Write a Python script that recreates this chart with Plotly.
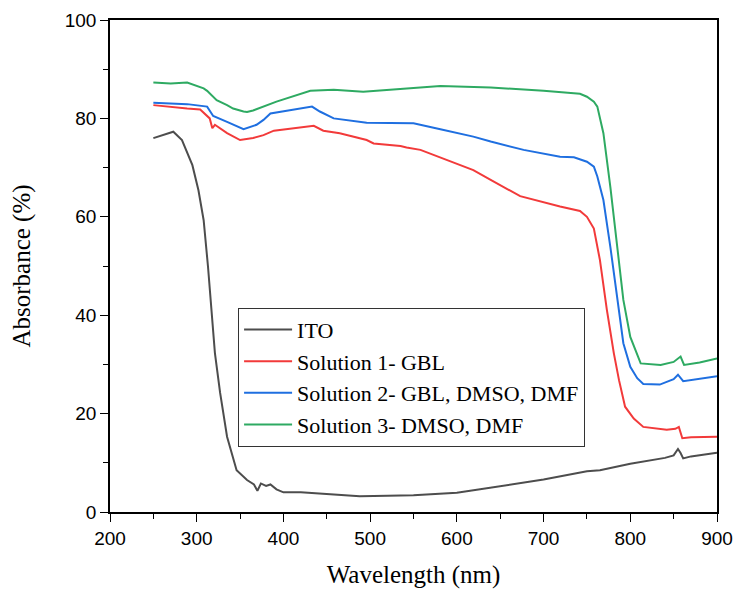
import plotly.graph_objects as go

# ITO
ito_x = [250, 265, 273, 283, 295, 302, 308, 313, 317, 321, 327, 335, 346, 358, 366, 370, 374, 380, 385, 392, 400,
         420, 454, 488, 520, 550, 600, 650, 700, 750, 765, 800, 840, 850, 855, 858, 861, 870, 900]
ito_y = [76.0, 76.8, 77.3, 75.6, 70.5, 65.4, 59.3, 49.9, 41.1, 32.3, 24.2, 15.3, 8.5, 6.5, 5.6, 4.3, 5.8, 5.3, 5.6, 4.6, 4.0,
         4.0, 3.6, 3.2, 3.3, 3.4, 3.9, 5.2, 6.6, 8.3, 8.5, 9.8, 11.0, 11.5, 12.8, 12.0, 10.9, 11.3, 12.05]

# Solution 1 - GBL
s1_x = [250, 270, 289, 304, 315, 318, 321, 335, 350, 365, 377, 389, 419, 427, 435, 446, 465, 496, 504, 535, 542, 558,
        581, 619, 639, 673, 719, 742, 750, 758, 765, 773, 781, 787, 794, 804, 815, 842, 852, 856, 860, 870, 900]
s1_y = [82.7, 82.3, 82.0, 81.8, 80.0, 78.0, 78.7, 77.0, 75.6, 76.0, 76.6, 77.5, 78.1, 78.3, 78.5, 77.5, 77.0, 75.6, 74.9,
        74.4, 74.1, 73.6, 72.0, 69.5, 67.5, 64.2, 62.1, 61.2, 60.0, 57.6, 51.2, 41.1, 32.3, 26.8, 21.4, 19.0, 17.3, 16.7,
        16.9, 17.3, 15.0, 15.2, 15.3]

# Solution 2 - GBL, DMSO, DMF
s2_x = [250, 270, 289, 312, 319, 335, 350, 354, 369, 377, 385, 412, 433, 442, 458, 496, 535, 550, 581, 619, 639, 677,
        719, 735, 750, 758, 762, 769, 777, 785, 792, 800, 808, 815, 834, 850, 855, 861, 880, 900]
s2_y = [83.2, 83.0, 82.9, 82.4, 80.5, 79.3, 78.0, 77.8, 78.7, 79.7, 81.0, 81.8, 82.4, 81.4, 80.0, 79.1, 79.0, 79.0, 77.8,
        76.3, 75.3, 73.6, 72.2, 72.1, 71.2, 70.2, 68.2, 63.4, 53.9, 43.1, 34.3, 29.5, 27.2, 26.0, 25.9, 27.0, 27.9, 26.6,
        27.1, 27.6]

# Solution 3 - DMSO, DMF
s3_x = [250, 270, 289, 308, 312, 323, 335, 342, 354, 358, 365, 377, 392, 431, 458, 492, 535, 581, 639, 658, 700, 735,
        742, 750, 758, 762, 769, 777, 785, 792, 800, 812, 835, 850, 858, 862, 880, 900]
s3_y = [87.3, 87.1, 87.3, 86.1, 85.6, 83.7, 82.7, 82.0, 81.4, 81.3, 81.6, 82.4, 83.4, 85.6, 85.8, 85.4, 86.0, 86.6, 86.3,
        86.1, 85.6, 85.1, 85.0, 84.4, 83.4, 82.4, 77.0, 66.1, 53.9, 43.1, 35.6, 30.2, 29.9, 30.5, 31.6, 29.9, 30.4, 31.2]

names = ["ITO", "Solution 1- GBL", "Solution 2- GBL, DMSO, DMF", "Solution 3- DMSO, DMF"]
colors = ["#4D4D4D", "#F23A3A", "#1F6FE0", "#2EAA62"]
series = [(ito_x, ito_y), (s1_x, s1_y), (s2_x, s2_y), (s3_x, s3_y)]

x_ticks = [200, 300, 400, 500, 600, 700, 800, 900]
y_ticks = [0, 20, 40, 60, 80, 100]

fig = go.Figure()
for (xs, ys), n, c in zip(series, names, colors):
    fig.add_trace(go.Scatter(x=xs, y=ys, mode="lines", name=n,
                             line=dict(color=c, width=2)))

title_font = dict(family="Liberation Serif, Times New Roman", size=25, color="black")
axis_common = dict(showline=True, linecolor="black", linewidth=1.6, mirror=True,
                   ticks="outside", ticklen=8, tickwidth=1.4, tickcolor="black",
                   showgrid=False, zeroline=False, automargin=False,
                   tickfont=dict(family="Liberation Sans, Arial", size=19, color="black"),
                   minor=dict(ticks="outside", ticklen=5, tickwidth=1.4, tickcolor="black", showgrid=False))

fig.update_xaxes(range=[200, 900], tickvals=x_ticks, **axis_common,
                 title=dict(text="Wavelength (nm)", font=title_font, standoff=18))
fig.update_xaxes(minor_dtick=50)
fig.update_yaxes(range=[0, 100], tickvals=y_ticks, **axis_common,
                 title=dict(text="Absorbance (%)", font=title_font, standoff=27))
fig.update_yaxes(minor_dtick=10)

fig.update_layout(
    width=737, height=594,
    margin=dict(l=110, r=20, t=20, b=82),
    plot_bgcolor="white", paper_bgcolor="white",
    legend=dict(x=0.211, y=0.415, xanchor="left", yanchor="top",
                bgcolor="white", bordercolor="#333333", borderwidth=1,
                font=dict(family="Liberation Serif, Times New Roman", size=22, color="black"),
                tracegroupgap=0, itemwidth=48),
    showlegend=True,
)

fig.write_html("out.html")
